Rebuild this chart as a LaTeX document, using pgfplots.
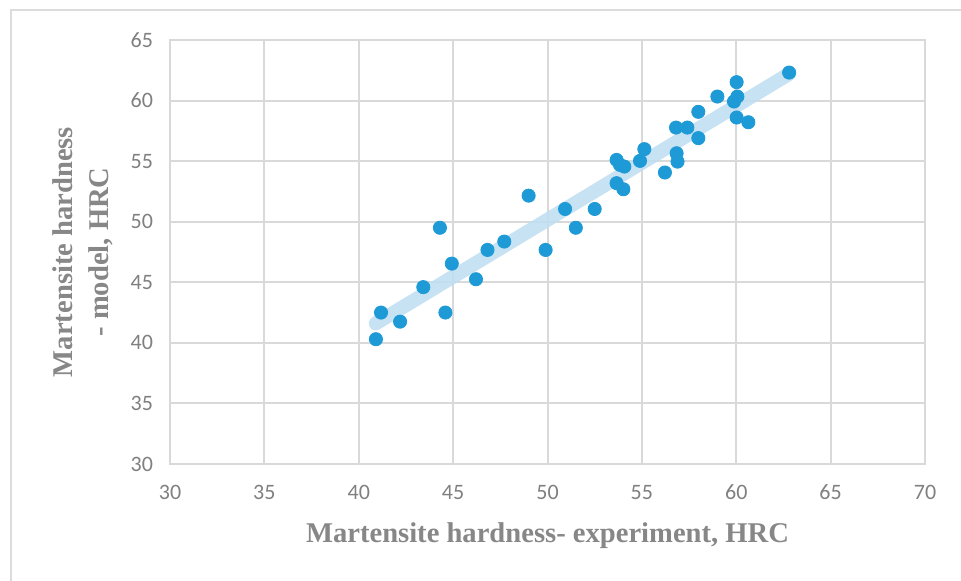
\documentclass[border=0pt]{standalone}
\usepackage{pgfplots}
\pgfplotsset{compat=1.18}
\usepackage{fontspec}
\setmainfont{Liberation Serif}
\newfontfamily\tickfont{Carlito}
\definecolor{gridgray}{RGB}{217,217,217}
\definecolor{tickgray}{RGB}{128,128,128}
\definecolor{labgray}{RGB}{135,135,135}
\definecolor{dotblue}{RGB}{30,155,215}
\definecolor{trendblue}{RGB}{190,222,242}
\definecolor{framegray}{RGB}{220,220,220}
\begin{document}
\begin{tikzpicture}
\path[use as bounding box] (0,0) rectangle (480.5pt,290.5pt);
\fill[white] (0,0) rectangle (480.5pt,290.5pt);
\draw[framegray, line width=1pt] (5.5pt,0) -- (5.5pt,285.5pt) -- (480.5pt,285.5pt);
\begin{axis}[
  at={(85pt,58.5pt)}, anchor=south west,
  scale only axis, width=377.5pt, height=212pt,
  xmin=30, xmax=70, ymin=30, ymax=65,
  xtick={30,35,...,70}, ytick={30,35,...,65},
  grid=major, major grid style={gridgray, line width=1pt},
  axis line style={gridgray, line width=1pt},
  major tick length=0pt,
  /pgf/number format/assume math mode=true,
  ticklabel style={font=\tickfont\fontsize{11}{13}\selectfont, text=tickgray},
  yticklabel style={xshift=-5pt},
  xticklabel style={yshift=-7pt},
  xlabel={Martensite hardness- experiment, HRC},
  ylabel={Martensite hardness\\- model, HRC},
  label style={font=\bfseries\fontsize{14.3}{18}\selectfont, text=labgray},
  xlabel style={at={(axis description cs:0.5,-0.17)}, anchor=center},
  ylabel style={at={(axis description cs:-0.115,0.5)}, anchor=center, align=center},
  clip=false,
]
\addplot[trendblue, line width=7pt, line cap=round, opacity=0.85] coordinates {(40.9,41.6) (62.8,62.2)};
\addplot[only marks, mark=*, mark size=3.3pt, mark options={fill=dotblue, draw=dotblue}] coordinates {
(40.91,40.3) (41.18,42.5) (42.19,41.75) (43.42,44.6) (44.3,49.5) (44.59,42.5)
(44.93,46.54) (46.21,45.25) (46.82,47.67) (47.71,48.36) (49.0,52.15) (49.9,47.67)
(50.93,51.05) (51.5,49.5) (52.5,51.05) (53.66,55.1) (53.84,54.69) (54.07,54.55)
(53.66,53.18) (54.02,52.68) (54.9,55.02) (55.13,55.99) (56.22,54.06) (56.81,57.77)
(57.41,57.77) (56.84,55.65) (56.89,54.96) (57.99,59.07) (57.99,56.9) (59.0,60.33)
(60.02,61.52) (60.06,60.33) (59.88,59.92) (60.02,58.6) (60.64,58.21) (62.8,62.31)
};
\end{axis}
\end{tikzpicture}
\end{document}
